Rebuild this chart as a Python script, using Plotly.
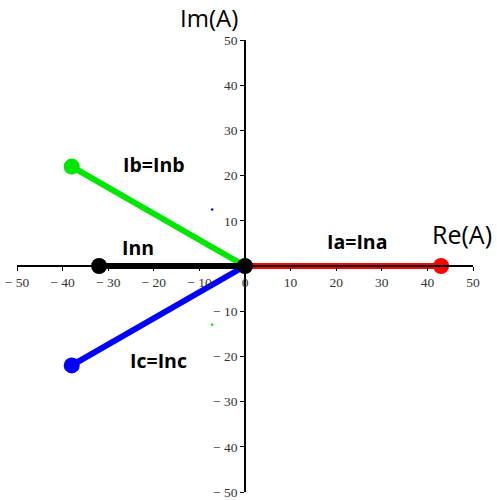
import plotly.graph_objects as go

# phasor endpoints (Re, Im)
names = ["Ia=Ina", "Ib=Inb", "Ic=Inc", "Inn"]
re_vals = [43, -38, -38, -32]
im_vals = [0, 22, -22, 0]
colors = ["red", "#00e600", "blue", "black"]

# small stray dots
dot_re = [-7.2, -7.2]
dot_im = [12.5, -13]
dot_colors = ["blue", "#00e600"]

# label positions
label_text = ["Ia=Ina", "Ib=Inb", "Ic=Inc", "Inn"]
label_x = [24.6, -20, -19, -23.5]
label_y = [5.5, 22.5, -21, 4]

tick_vals = [-50, -40, -30, -20, -10, 0, 10, 20, 30, 40, 50]
x_tick_text = ["\u2212 50", "\u2212 40", "\u2212 30", "\u2212 20", "\u2212 10", "0", "10", "20", "30", "40", "50"]
y_tick_text = ["\u2212 50", "\u2212 40", "\u2212 30", "\u2212 20", "\u2212 10", "", "10", "20", "30", "40", "50"]

fig = go.Figure()
for r, i, c in zip(re_vals, im_vals, colors):
    fig.add_trace(go.Scatter(x=[0, r], y=[0, i], mode="lines",
                             line=dict(color=c, width=6), showlegend=False,
                             hoverinfo="skip", cliponaxis=False))
for r, i, c in zip(re_vals, im_vals, colors):
    fig.add_trace(go.Scatter(x=[r], y=[i], mode="markers",
                             marker=dict(color=c, size=16), showlegend=False,
                             cliponaxis=False))
fig.add_trace(go.Scatter(x=[0], y=[0], mode="markers",
                         marker=dict(color="black", size=16), showlegend=False,
                         cliponaxis=False))
fig.add_trace(go.Scatter(x=dot_re, y=dot_im, mode="markers",
                         marker=dict(color=dot_colors, size=2.5), showlegend=False))

for t, x, y in zip(label_text, label_x, label_y):
    fig.add_annotation(x=x, y=y, text="<b>" + t + "</b>", showarrow=False,
                       font=dict(family="Open Sans", size=19.5, color="black"))
fig.add_annotation(x=47.5, y=7, text="Re(A)", showarrow=False,
                   font=dict(family="Open Sans", size=25, color="black"))
fig.add_annotation(x=-7.9, xref="x", y=(55.0 + 50) / 100, yref="paper",
                   yanchor="middle", xanchor="center",
                   text="Im(A)", showarrow=False,
                   font=dict(family="Open Sans", size=24, color="black"))

axis_common = dict(range=[-50, 50], showgrid=False, zeroline=False,
                   showline=True, linecolor="black", linewidth=1.5,
                   ticks="outside", ticklen=4, tickcolor="black",
                   tickvals=tick_vals, anchor="free", position=0.5,
                   automargin=False,
                   tickfont=dict(family="Liberation Serif", size=13.5, color="#333"))
fig.update_layout(
    width=497, height=500,
    margin=dict(l=17, r=24, t=40, b=8),
    plot_bgcolor="white", paper_bgcolor="white",
    xaxis=dict(**axis_common, ticktext=x_tick_text),
    yaxis=dict(**axis_common, ticktext=y_tick_text),
)
fig.write_html("out.html")
